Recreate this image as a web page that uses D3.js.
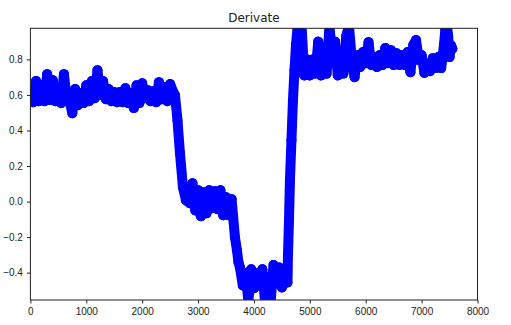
<!DOCTYPE html>
<html lang="en">
<head>
<meta charset="UTF-8">
<title>Derivate</title>
<script src="https://d3js.org/d3.v7.min.js"></script>
<style>
    body { margin: 0; background: #fff; }
    svg { display: block; font-family: "DejaVu Sans", sans-serif; }
    .tick text { font-size: 10px; fill: #222; }
    .tick line { stroke: #222; }
</style>
</head>
<body>
<div id="chart"></div>
<script>
// [sample, value]
var points = [
    [0, 0.610], [50, 0.559], [100, 0.678], [150, 0.565], [200, 0.655], [250, 0.565],
    [300, 0.717], [350, 0.571], [400, 0.683], [450, 0.565], [500, 0.599], [550, 0.554],
    [600, 0.717], [650, 0.576], [700, 0.571], [750, 0.497], [800, 0.633], [850, 0.542],
    [900, 0.610], [950, 0.554], [1000, 0.655], [1050, 0.565], [1100, 0.678], [1150, 0.582],
    [1200, 0.739], [1250, 0.599], [1300, 0.678], [1350, 0.576], [1400, 0.633], [1450, 0.565],
    [1500, 0.616], [1550, 0.559], [1600, 0.616], [1650, 0.559], [1700, 0.638], [1750, 0.554],
    [1800, 0.610], [1850, 0.526], [1900, 0.655], [1950, 0.554], [2000, 0.666], [2050, 0.582],
    [2100, 0.627], [2150, 0.565], [2200, 0.621], [2250, 0.559], [2300, 0.672], [2350, 0.576],
    [2400, 0.644], [2450, 0.565], [2500, 0.661], [2550, 0.620],
    [2587, 0.599], [2632, 0.457], [2676, 0.272], [2730, 0.080], [2784, 0.007], [2855, -0.010],
    [2900, 0.103], [2950, -0.050], [3000, 0.064], [3050, -0.083], [3100, 0.052], [3150, -0.066],
    [3200, 0.064], [3250, -0.038], [3300, 0.058], [3350, -0.043], [3400, 0.064], [3450, -0.077],
    [3500, 0.024], [3550, -0.077], [3600, 0.013],
    [3625, -0.077], [3660, -0.201], [3696, -0.274], [3723, -0.342],
    [3750, -0.371], [3800, -0.472], [3850, -0.404], [3900, -0.560], [3950, -0.381], [4000, -0.488],
    [4050, -0.404], [4100, -0.472], [4150, -0.381], [4200, -0.570], [4250, -0.426], [4300, -0.560],
    [4350, -0.357], [4400, -0.460], [4450, -0.371], [4500, -0.483], [4550, -0.386], [4600, -0.455],
    [4609, -0.300], [4627, -0.105], [4644, 0.120], [4671, 0.345], [4698, 0.570], [4725, 0.739],
    [4752, 0.881], [4779, 0.976], [4806, 1.020],
    [4850, 1.000], [4900, 0.710], [4950, 0.800], [5000, 0.710], [5050, 0.800], [5100, 0.720],
    [5150, 0.900], [5200, 0.710], [5250, 0.770], [5300, 0.720], [5350, 0.990], [5400, 0.820],
    [5450, 0.900], [5500, 0.710], [5550, 0.800], [5600, 0.720], [5650, 0.930], [5700, 0.990],
    [5750, 0.800], [5800, 0.700], [5850, 0.824], [5900, 0.757], [5950, 0.841], [6000, 0.779],
    [6050, 0.897], [6100, 0.768], [6150, 0.813], [6200, 0.757], [6250, 0.824], [6300, 0.768],
    [6350, 0.864], [6400, 0.779], [6450, 0.852], [6500, 0.768], [6550, 0.835], [6600, 0.768],
    [6650, 0.824], [6700, 0.768], [6750, 0.841], [6800, 0.728], [6850, 0.881], [6900, 0.909],
    [6950, 0.796], [7000, 0.824], [7050, 0.723], [7100, 0.768], [7150, 0.734], [7200, 0.807],
    [7250, 0.751], [7300, 0.813], [7350, 0.751], [7400, 0.881], [7425, 0.970], [7450, 1.000],
    [7475, 0.930], [7500, 0.813], [7525, 0.880], [7550, 0.860]
];

var xTicks = [0, 1000, 2000, 3000, 4000, 5000, 6000, 7000, 8000];
var yTicks = [-0.4, -0.2, 0.0, 0.2, 0.4, 0.6, 0.8];
var xDomain = [0, 8000];
var yDomain = [-0.554, 0.975];

var width = 511, height = 325,
    margin = {left: 30.4, right: 477.5, top: 28.3, bottom: 300};

var svg = d3.select("#chart").append("svg")
    .attr("width", width)
    .attr("height", height);

var x = d3.scaleLinear().domain(xDomain).range([margin.left, margin.right]);
var y = d3.scaleLinear().domain(yDomain).range([margin.bottom, margin.top]);

svg.append("defs").append("clipPath").attr("id", "plotClip")
    .append("rect")
    .attr("x", margin.left).attr("y", margin.top)
    .attr("width", margin.right - margin.left).attr("height", margin.bottom - margin.top);

var plot = svg.append("g").attr("clip-path", "url(#plotClip)");

var line = d3.line().x(d => x(d[0])).y(d => y(d[1]));

// markers are dense enough to merge into one thick band
plot.append("path")
    .datum(points)
    .attr("d", line)
    .attr("fill", "none")
    .attr("stroke", "#0000ff")
    .attr("stroke-width", 10)
    .attr("stroke-linejoin", "round")
    .attr("stroke-linecap", "round");

plot.selectAll("circle")
    .data(points).enter().append("circle")
    .attr("cx", d => x(d[0]))
    .attr("cy", d => y(d[1]))
    .attr("r", 5)
    .attr("fill", "#0000ff");

// axes
var fmtY = d => d3.format(".1f")(d).replace("-", "\u2212");

var xAxis = svg.append("g")
    .attr("transform", "translate(0," + margin.bottom + ")")
    .call(d3.axisBottom(x).tickValues(xTicks).tickFormat(d3.format("d"))
        .tickSize(3.5).tickSizeOuter(0).tickPadding(4.5));
xAxis.select(".domain").remove();

var yAxis = svg.append("g")
    .attr("transform", "translate(" + margin.left + ",0)")
    .call(d3.axisLeft(y).tickValues(yTicks).tickFormat(fmtY)
        .tickSize(3.5).tickSizeOuter(0).tickPadding(4));
yAxis.select(".domain").remove();

// frame
svg.append("rect")
    .attr("x", margin.left).attr("y", margin.top)
    .attr("width", margin.right - margin.left).attr("height", margin.bottom - margin.top)
    .attr("fill", "none")
    .attr("stroke", "#222")
    .attr("stroke-width", 1);

svg.append("text")
    .attr("x", (margin.left + margin.right) / 2)
    .attr("y", 22)
    .attr("text-anchor", "middle")
    .style("font-size", "12px")
    .style("fill", "#222")
    .text("Derivate");
</script>
</body>
</html>
